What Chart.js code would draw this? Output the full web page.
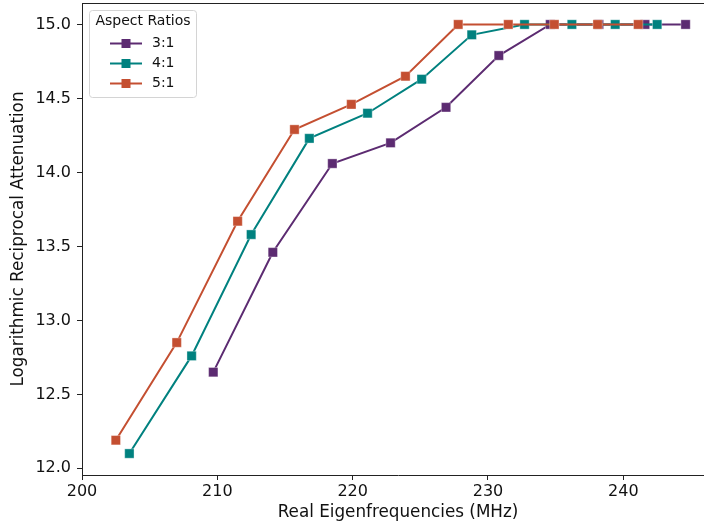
<!DOCTYPE html>
<html>
<head>
<meta charset="utf-8">
<script src="https://cdn.jsdelivr.net/npm/chart.js@4/dist/chart.umd.min.js"></script>
<style>
    html, body { margin: 0; padding: 0; background: #fff; overflow: hidden; width: 704px; height: 527px; }
    canvas { display: block; }
</style>
</head>
<body>
<canvas id="attenuationChart" width="720" height="527"></canvas>
<script>
const seriesLabels = ['3:1', '4:1', '5:1'];
const seriesColors = ['#5c2b71', '#00817f', '#c44f31'];

const freq31 = [209.7, 214.1, 218.5, 222.8, 226.9, 230.8, 234.6, 238.2, 241.6, 244.6];
const atten31 = [12.65, 13.46, 14.06, 14.20, 14.44, 14.79, 15.0, 15.0, 15.0, 15.0];

const freq41 = [203.5, 208.1, 212.5, 216.8, 221.1, 225.1, 228.8, 232.7, 236.2, 239.4, 242.5];
const atten41 = [12.10, 12.76, 13.58, 14.23, 14.40, 14.63, 14.93, 15.0, 15.0, 15.0, 15.0];

const freq51 = [202.5, 207.0, 211.5, 215.7, 219.9, 223.9, 227.8, 231.5, 234.9, 238.1, 241.1];
const atten51 = [12.19, 12.85, 13.67, 14.29, 14.46, 14.65, 15.0, 15.0, 15.0, 15.0, 15.0];

const xTicks = [200, 210, 220, 230, 240];
const yTicks = [12.0, 12.5, 13.0, 13.5, 14.0, 14.5, 15.0];

const FONT = "'DejaVu Sans', sans-serif";

function toPoints(xs, ys) {
    return xs.map((x, i) => ({x: x, y: ys[i]}));
}

function makeDataset(idx, xs, ys, order) {
    return {
        label: seriesLabels[idx],
        data: toPoints(xs, ys),
        borderColor: seriesColors[idx],
        backgroundColor: seriesColors[idx],
        borderWidth: 2,
        pointStyle: 'rect',
        pointRadius: 6.6,
        pointBorderWidth: 1,
        pointBorderColor: 'rgba(255, 255, 255, 0.35)',
        pointBackgroundColor: seriesColors[idx],
        tension: 0,
        order: order,
    };
}

// top/right spines and the boxed legend with its title
const framePlugin = {
    id: 'framePlugin',
    afterDraw(chart) {
        const {ctx, chartArea: {left, top, right, bottom}} = chart;
        ctx.save();
        ctx.strokeStyle = '#222';
        ctx.lineWidth = 1;
        ctx.beginPath();
        ctx.moveTo(left, top + 0.5);
        ctx.lineTo(right, top + 0.5);
        ctx.moveTo(right - 0.5, top);
        ctx.lineTo(right - 0.5, bottom);
        ctx.stroke();

        // legend box
        const bx = 89.5, by = 10.5, bw = 107, bh = 87, r = 3;
        ctx.beginPath();
        ctx.moveTo(bx + r, by);
        ctx.arcTo(bx + bw, by, bx + bw, by + bh, r);
        ctx.arcTo(bx + bw, by + bh, bx, by + bh, r);
        ctx.arcTo(bx, by + bh, bx, by, r);
        ctx.arcTo(bx, by, bx + bw, by, r);
        ctx.closePath();
        ctx.fillStyle = 'rgba(255, 255, 255, 0.8)';
        ctx.fill();
        ctx.strokeStyle = '#d4d4d4';
        ctx.stroke();

        ctx.fillStyle = '#111';
        ctx.font = '14px ' + FONT;
        ctx.textAlign = 'center';
        ctx.textBaseline = 'middle';
        ctx.fillText('Aspect Ratios', 143, 21);

        chart.data.datasets.forEach((ds, i) => {
            const y = 43.5 + i * 20;
            ctx.strokeStyle = ds.borderColor;
            ctx.lineWidth = 2;
            ctx.beginPath();
            ctx.moveTo(110, y);
            ctx.lineTo(142, y);
            ctx.stroke();
            ctx.fillStyle = ds.backgroundColor;
            ctx.fillRect(121.5, y - 4.5, 9, 9);
            ctx.fillStyle = '#111';
            ctx.textAlign = 'left';
            ctx.fillText(ds.label, 152, y);
        });
        ctx.restore();
    }
};

const canvas = document.getElementById('attenuationChart');
new Chart(canvas.getContext('2d'), {
    type: 'line',
    data: {
        datasets: [
            makeDataset(0, freq31, atten31, 3),
            makeDataset(1, freq41, atten41, 2),
            makeDataset(2, freq51, atten51, 1),
        ]
    },
    options: {
        responsive: false,
        animation: false,
        devicePixelRatio: 1,
        layout: {
            autoPadding: false,
            padding: {left: 0, top: 3, right: 6, bottom: 0}
        },
        scales: {
            x: {
                type: 'linear',
                min: 200,
                max: 246.7,
                afterBuildTicks(scale) {
                    scale.ticks = xTicks.map(v => ({value: v}));
                },
                afterFit(scale) {
                    scale.height = 52;
                    scale.paddingLeft = 0;
                    scale.paddingRight = 0;
                },
                ticks: {
                    color: '#111',
                    padding: 2,
                    maxRotation: 0,
                    font: {family: FONT, size: 16},
                },
                grid: {
                    drawOnChartArea: false,
                    drawTicks: true,
                    tickLength: 5,
                    color: '#222',
                },
                border: {color: '#222', width: 1},
                title: {
                    display: true,
                    text: 'Real Eigenfrequencies (MHz)',
                    color: '#111',
                    font: {family: FONT, size: 16.8},
                    padding: {top: 0, bottom: 4},
                },
            },
            y: {
                min: 11.955,
                max: 15.145,
                afterBuildTicks(scale) {
                    scale.ticks = yTicks.map(v => ({value: v}));
                },
                afterFit(scale) {
                    scale.width = 82;
                    scale.paddingTop = 0;
                    scale.paddingBottom = 0;
                },
                ticks: {
                    color: '#111',
                    padding: 6,
                    font: {family: FONT, size: 16},
                    callback: v => Number(v).toFixed(1),
                },
                grid: {
                    drawOnChartArea: false,
                    drawTicks: true,
                    tickLength: 5,
                    color: '#222',
                },
                border: {color: '#222', width: 1},
                title: {
                    display: true,
                    text: 'Logarithmic Reciprocal Attenuation',
                    color: '#111',
                    font: {family: FONT, size: 16.8},
                    padding: {top: 9, bottom: 0},
                },
            }
        },
        plugins: {
            legend: {display: false},
            tooltip: {enabled: false},
        }
    },
    plugins: [framePlugin]
});
</script>
</body>
</html>
